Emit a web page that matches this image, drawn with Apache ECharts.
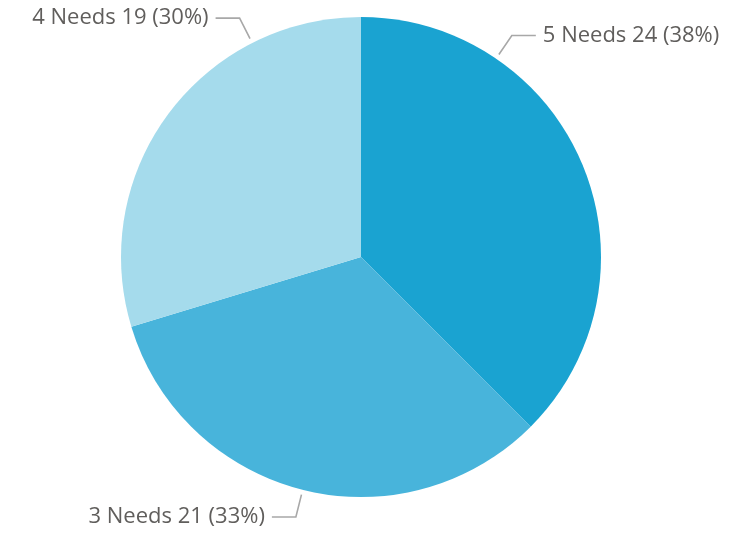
<!DOCTYPE html>
<html>
<head>
<meta charset="utf-8">
<script src="https://cdn.jsdelivr.net/npm/echarts@6/dist/echarts.min.js"></script>
<style>html,body{margin:0;padding:0;background:#fff;}#c{width:752px;height:537px;}</style>
</head>
<body>
<div id="c"></div>
<script>
var categories = ['5 Needs', '3 Needs', '4 Needs'];
var values = [24, 21, 19];
var colors = ['#1AA3D1', '#48B4DB', '#A5DBEC'];

var W = 752, H = 537;
var CX = 361, CY = 257, R = 240;
var GAP = 5, LEN1 = 23, LEN2 = 24, PAD = 7, MARGIN = 32;

var total = values.reduce(function(a, b){ return a + b; }, 0);

// slice angles (degrees, clockwise from 12 o'clock), derived from the data
var starts = [], ends = [];
(function(){
  var acc = 0;
  values.forEach(function(v){
    starts.push(acc / total * 360);
    acc += v;
    ends.push(acc / total * 360);
  });
})();

function pt(theta, r){
  var a = theta * Math.PI / 180;
  return [CX + r * Math.sin(a), CY - r * Math.cos(a)];
}

function placeLabel(idx, textW){
  var mid = (starts[idx] + ends[idx]) / 2;
  var theta = mid;
  var towardTop = Math.cos(mid * Math.PI / 180) > 0;
  function geom(t){
    var right = Math.sin(t * Math.PI / 180) >= 0;
    var p0 = pt(t, R + GAP), p1 = pt(t, R + GAP + LEN1);
    var p2 = [p1[0] + (right ? LEN2 : -LEN2), p1[1]];
    var tx = p2[0] + (right ? PAD : -PAD);
    var left = right ? tx : tx - textW;
    var rgt = right ? tx + textW : tx;
    return {right: right, pts: [p0, p1, p2], tx: tx, ty: p1[1], l: left, r: rgt};
  }
  var g = geom(theta);
  var step = 0.25, guard = 0;
  while ((g.l < MARGIN || g.r > W - MARGIN) && guard < 2000) {
    var right = Math.sin(theta * Math.PI / 180) >= 0;
    // slide the label along the rim toward the vertical axis until it fits
    if (towardTop) theta += right ? -step : step;
    else theta += right ? step : -step;
    if (theta < starts[idx] || theta > ends[idx]) break;
    g = geom(theta);
    guard++;
  }
  return g;
}

var chart = echarts.init(document.getElementById('c'), null, {renderer: 'canvas'});
chart.setOption({
  animation: false,
  series: [{
    type: 'pie',
    center: [CX, CY],
    radius: [0, R],
    startAngle: 90,
    clockwise: true,
    avoidLabelOverlap: false,
    itemStyle: {borderWidth: 0},
    label: {
      show: true,
      position: 'outside',
      color: '#605E5C',
      fontFamily: "'Segoe UI', 'Open Sans', sans-serif",
      fontSize: 22,
      formatter: function(p){ return p.name + ' ' + p.value + ' (' + Math.round(p.value / total * 100) + '%)'; }
    },
    labelLine: {
      show: true,
      length: 20,
      length2: 25,
      lineStyle: {color: '#A8A8A8', width: 1.6}
    },
    labelLayout: function(params){
      var g = placeLabel(params.dataIndex, params.labelRect.width);
      return {
        x: g.tx,
        y: g.ty,
        align: g.right ? 'left' : 'right',
        verticalAlign: 'middle',
        labelLinePoints: g.pts
      };
    },
    emphasis: {disabled: true},
    data: categories.map(function(c, i){
      return {name: c, value: values[i], itemStyle: {color: colors[i]}};
    })
  }]
});
</script>
</body>
</html>
